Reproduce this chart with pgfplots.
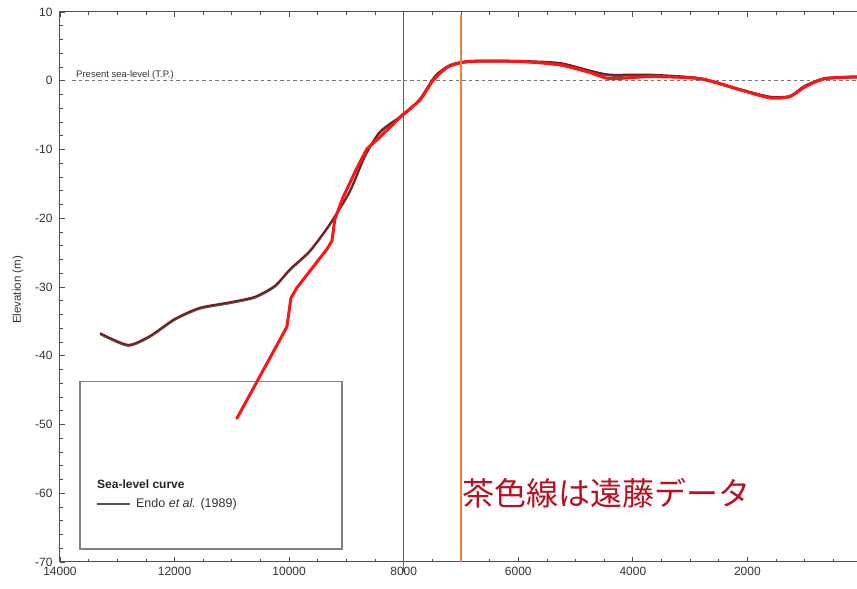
\documentclass[border=0pt]{standalone}
\usepackage{pgfplots}
\pgfplotsset{compat=1.18}
\usepackage{fontspec}
\setmainfont{Liberation Sans}
\newfontfamily\cjk{Noto Sans CJK JP}
\definecolor{framec}{HTML}{505050}
\definecolor{labelc}{HTML}{333333}
\definecolor{brownc}{HTML}{7A1A1A}
\definecolor{shadowc}{HTML}{555555}
\definecolor{redc}{HTML}{FF1414}
\definecolor{vlinetwo}{RGB}{240,128,64}
\definecolor{boxc}{HTML}{808080}
\definecolor{jpred}{HTML}{B81020}
\colorlet{vlinered}{red!70!orange}
\begin{document}
\begin{tikzpicture}[x=1pt,y=1pt]
\fill[white] (0,0) rectangle (857,589);
\begin{axis}[
  at={(60pt,27pt)}, anchor=south west,
  scale only axis, width=802pt, height=550pt,
  xmin=0, xmax=14000, x dir=reverse,
  ymin=-70, ymax=10,
  xtick={0,2000,...,14000}, minor x tick num=3,
  ytick={-70,-60,...,10}, minor y tick num=4,
  scaled x ticks=false,
  tick align=inside, major tick length=5pt, minor tick length=3pt,
  axis line style={framec, line width=1pt},
  every tick/.style={framec, line width=0.8pt},
  tick label style={font=\fontsize{12}{12}\selectfont, text=labelc},
  /pgf/number format/assume math mode=true,
  /pgf/number format/1000 sep={},
  xticklabel style={yshift=-2pt},
  yticklabel style={xshift=-4pt},
  clip=false,
]
% legend box
\draw[boxc, line width=1.3pt] (axis cs:13651,-43.7) rectangle (axis cs:9079,-68.1);
\node[anchor=west, inner sep=0, font=\bfseries\fontsize{12}{12}\selectfont, text=black!85] at (axis cs:13354,-58.7) {Sea-level curve};
\draw[shadowc, line width=1.5pt] (axis cs:13354,-61.6) -- (axis cs:12778,-61.6);
\node[anchor=west, inner sep=0, font=\fontsize{12.5}{12.5}\selectfont, text=labelc] at (axis cs:12674,-61.6) {Endo \textit{et al.} (1989)};
% present sea level
\addplot[shadowc!80, line width=0.9pt, dash pattern=on 3.5pt off 3pt] coordinates {(13790,0) (0,0)};
\node[anchor=base west, inner sep=0, font=\fontsize{9.5}{9.5}\selectfont, text=labelc] at (axis cs:13720,0.45) {Present sea-level (T.P.)};
% Endo curve (brown) with grey shadow
\addplot[shadowc, line width=1.8pt, yshift=-1.2pt, smooth, tension=0.4] coordinates {
(13300,-36.7) (12813,-38.4) (12430,-37.1) (11993,-34.6) (11557,-33.0) (11033,-32.2)
(10597,-31.4) (10248,-29.8) (9986,-27.4) (9637,-24.7) (9288,-20.8) (8939,-16.0)
(8677,-10.9) (8415,-7.4) (7997,-4.8) (7717,-2.6) (7455,0.7) (7194,2.3) (6845,2.9)
(5972,2.9) (5274,2.6) (4750,1.5) (4401,0.9) (3703,0.9) (2830,0.4) (2132,-1.2)
(1608,-2.3) (1259,-2.2) (997,-0.7) (648,0.4) (212,0.6) (0,0.6)};
\addplot[brownc, line width=1.8pt, smooth, tension=0.4] coordinates {
(13300,-36.7) (12813,-38.4) (12430,-37.1) (11993,-34.6) (11557,-33.0) (11033,-32.2)
(10597,-31.4) (10248,-29.8) (9986,-27.4) (9637,-24.7) (9288,-20.8) (8939,-16.0)
(8677,-10.9) (8415,-7.4) (7997,-4.8) (7717,-2.6) (7455,0.7) (7194,2.3) (6845,2.9)
(5972,2.9) (5274,2.6) (4750,1.5) (4401,0.9) (3703,0.9) (2830,0.4) (2132,-1.2)
(1608,-2.3) (1259,-2.2) (997,-0.7) (648,0.4) (212,0.6) (0,0.6)};
% red curve
\addplot[redc, line width=3pt, line join=round, line cap=round] coordinates {
(10911,-49.1) (10039,-35.8) (9969,-31.6) (9864,-30.1) (9340,-24.5) (9253,-23.3)
(9201,-20.1) (9061,-17.0) (8817,-12.7) (8642,-9.9) (8415,-8.2) (8014,-4.9)};
\addplot[redc, line width=3pt, smooth, tension=0.4, line cap=round] coordinates {
(8014,-4.9) (7717,-2.8) (7490,0) (7229,2.0) (6845,2.8) (5972,2.8) (5274,2.3)
(4750,1.2) (4401,0.3) (3703,0.6) (2830,0.3) (2132,-1.3) (1608,-2.5) (1259,-2.3)
(997,-0.9) (648,0.3) (0,0.6)};
% vertical marker lines
\addplot[draw=vlinetwo, line width=1.3pt] coordinates {(7000,9.5) (7000,-70)};
\addplot[draw=vlinered, line width=1.4pt] coordinates {(8000,9.5) (8000,-71.5)};
% Japanese annotation
\node[anchor=west, inner sep=0, font=\cjk\fontsize{32}{32}\selectfont, text=jpred] at (axis cs:6984,-60.0) {茶色線は遠藤データ};
\end{axis}
\node[rotate=90, font=\fontsize{11.5}{11.5}\selectfont, text=labelc] at (18,299) {Elevation (m)};
\pgfresetboundingbox
\path[use as bounding box] (0,0) rectangle (857,589);
\end{tikzpicture}
\end{document}
